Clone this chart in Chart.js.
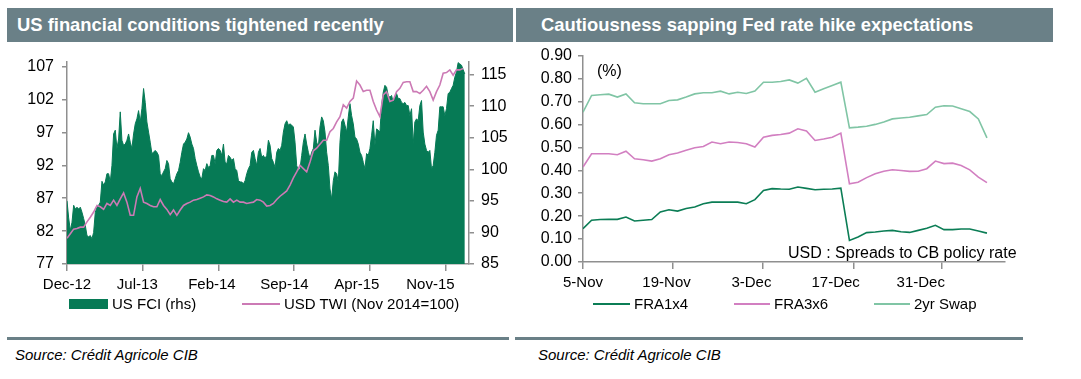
<!DOCTYPE html>
<html>
<head>
<meta charset="utf-8">
<script src="https://cdn.jsdelivr.net/npm/chart.js@4.4.1/dist/chart.umd.min.js"></script>
<style>
  html, body { margin: 0; padding: 0; background: #ffffff; }
  body { position: relative; width: 1081px; height: 379px; overflow: hidden;
         font-family: "Liberation Sans", Arial, sans-serif; color: #000; }
  .hdr { position: absolute; top: 8px; height: 34px; background: #6a8087; color: #fff;
         font-weight: bold; font-size: 18.4px; line-height: 34px; box-sizing: border-box; white-space: nowrap; }
  .txt { position: absolute; font-size: 15px; line-height: 18px; white-space: nowrap; }
  .sep { position: absolute; top: 337px; height: 3px; background: #6a8087; }
  .src { position: absolute; top: 346px; font-size: 15px; line-height: 18px; font-style: italic; white-space: nowrap; }
  .sw  { position: absolute; }
  canvas { position: absolute; }
</style>
</head>
<body>
<div class="hdr" style="left:7px;width:506px;padding-left:10px;">US financial conditions tightened recently</div>
<div class="hdr" style="left:516px;width:537px;padding-left:25px;">Cautiousness sapping Fed rate hike expectations</div>

<canvas id="c1" width="520" height="256" style="left:0px;top:40px;"></canvas>
<canvas id="c2" width="540" height="254" style="left:520px;top:40px;"></canvas>

<!-- left legend -->
<div class="sw" style="left:69px;top:299px;width:39px;height:10px;background:#067a55;"></div>
<div class="txt" style="left:112px;top:295px;">US FCI (rhs)</div>
<div class="sw" style="left:242px;top:303px;width:38px;height:2px;background:#cc7ab5;"></div>
<div class="txt" style="left:284px;top:295px;">USD TWI (Nov 2014=100)</div>

<!-- right legend -->
<div class="sw" style="left:593px;top:303px;width:37px;height:2px;background:#0b7d55;"></div>
<div class="txt" style="left:634px;top:295px;">FRA1x4</div>
<div class="sw" style="left:734px;top:303px;width:36px;height:2px;background:#d27fc1;"></div>
<div class="txt" style="left:774px;top:295px;">FRA3x6</div>
<div class="sw" style="left:874px;top:303px;width:36px;height:2px;background:#80c5a5;"></div>
<div class="txt" style="left:914px;top:295px;">2yr Swap</div>

<!-- in-chart notes -->
<div class="txt" style="left:597px;top:62px;font-size:16px;">(%)</div>
<div class="txt" style="left:788px;top:244px;font-size:16px;">USD : Spreads to CB policy rate</div>

<div class="sep" style="left:7px;width:502px;"></div>
<div class="sep" style="left:515px;width:508px;"></div>
<div class="src" style="left:15px;">Source: Crédit Agricole CIB</div>
<div class="src" style="left:538px;">Source: Crédit Agricole CIB</div>

<script>
// ---------------- LEFT CHART DATA ----------------
// months between consecutive US FCI observations (~4.7 days), series starts Dec-2012
const FCI_STEP = 0.1539;
// US FCI (right-hand scale)
const fciValues = [
  95.0, 92.3, 90.3, 91.6, 94.3, 93.7, 94.0, 93.7, 94.0, 93.2, 92.2, 91.1, 89.5, 89.3, 89.5, 89.0, 90.0, 93.2, 94.0, 94.3,
  94.8, 98.1, 97.5, 98.0, 99.3, 99.3, 98.0, 100.6, 105.6, 106.2, 103.3, 104.8, 109.1, 104.6, 103.8, 104.0, 104.6, 105.6, 104.3, 103.3,
  105.6, 107.2, 108.0, 109.3, 107.5, 109.6, 112.8, 110.6, 107.5, 105.9, 104.3, 102.5, 102.7, 103.0, 102.7, 102.2, 99.3,
  99.0, 99.6, 100.1, 101.4, 100.9, 98.5, 98.0, 97.7, 98.5, 99.3, 99.8, 101.1, 102.7, 104.0, 104.3, 104.8, 105.8, 105.1, 104.0, 103.3,
  101.7, 100.6, 99.6, 98.8, 98.5, 100.1, 99.8, 100.9, 100.3, 100.6, 102.2, 102.2, 100.9, 103.0, 103.3, 103.0, 102.2, 104.0, 101.1, 100.9,
  102.2, 101.9, 101.4, 101.7, 100.1, 99.8, 98.2, 98.0, 98.0, 97.7, 98.2, 99.3, 100.1, 100.6, 102.7, 103.0, 101.7, 100.6, 102.7, 103.3,
  101.9, 102.2, 101.7, 102.2, 104.6, 103.8, 101.7, 101.1, 100.3, 102.7, 103.3, 103.0, 103.8, 105.9, 107.2, 107.7, 107.0, 107.2, 107.0, 106.7,
  104.3, 100.6, 99.8, 100.1, 102.2, 104.3, 105.6, 104.0, 102.7, 101.7, 102.7, 103.3, 106.2, 104.3, 103.5, 106.7, 108.3, 107.7, 105.9, 102.7,
  100.6, 96.9, 95.3, 98.2, 99.6, 99.3, 98.0, 104.3, 107.5, 108.0, 107.0, 105.9, 108.3, 110.4, 108.5, 107.2, 105.1, 104.8, 104.0, 102.7,
  102.2, 101.1, 100.1, 102.5, 102.2, 103.3, 105.4, 107.7, 103.8, 106.4, 106.2, 105.9, 110.1, 112.2, 113.3, 113.0, 111.7, 111.4, 111.7, 110.6,
  111.4, 112.0, 111.2, 111.2, 110.6, 110.4, 110.6, 110.1, 110.1, 108.5, 109.6, 104.0, 107.5, 108.0, 107.7, 110.1, 110.9, 105.9, 104.0, 103.0,
  102.7, 103.0, 100.1, 100.6, 102.7, 105.4, 106.2, 109.9, 109.9, 109.9, 108.5, 109.6, 112.0, 112.2, 112.8, 113.3, 114.6, 115.4, 116.9, 116.7,
  116.5, 115.8, 115.1
];
// USD trade-weighted index (left scale), one observation every two FCI steps
const twiValues = [
  80.9, 81.6, 82.3, 82.4, 82.6, 82.6, 83.4, 84.1, 84.9, 85.9, 85.7, 85.3, 86.2, 85.9, 86.7, 85.9, 86.9, 87.8, 86.4, 84.4,
  84.4, 87.2, 88.5, 86.4, 86.2, 85.9, 85.7, 85.7, 86.8,
  85.9, 85.3, 84.5, 85.2, 84.4, 85.2, 85.9, 86.2, 86.4, 86.7, 86.8, 87.0, 87.2, 87.5, 87.4, 87.2, 86.9, 86.7, 86.5, 86.4,
  86.9, 86.4, 86.7, 86.4, 86.4, 86.2, 86.3, 86.4, 86.8, 86.7,
  86.4, 85.8, 85.9, 86.2, 86.8, 87.3, 87.7, 88.1, 89.0, 90.1, 91.0, 92.0, 91.5, 91.0, 92.5, 94.2, 94.6, 95.2, 95.8, 95.8,
  97.1, 97.6, 98.6, 99.4, 101.2, 100.7, 101.7, 102.2, 104.8, 104.2,
  103.2, 103.4, 103.4, 101.7, 100.4, 99.4, 102.7, 103.2, 101.7, 101.9, 103.2, 103.7, 104.6, 104.7, 104.7, 103.2, 103.2, 102.9, 103.4, 104.0,
  103.2, 101.9, 103.2, 104.2, 106.0, 106.1, 106.5, 105.7, 106.5, 106.5, 106.7
];
const leftLabels = ['Dec-12', 'Jul-13', 'Feb-14', 'Sep-14', 'Apr-15', 'Nov-15'];
const leftTickMonths = [0, 7, 14, 21, 28, 35];
const twiTicks = [77, 82, 87, 92, 97, 102, 107];
const fciTicks = [85, 90, 95, 100, 105, 110, 115];

// ---------------- RIGHT CHART DATA ----------------
const rateDays = ['5-Nov','6-Nov','9-Nov','10-Nov','11-Nov','12-Nov','13-Nov','16-Nov','17-Nov','18-Nov',
  '19-Nov','20-Nov','23-Nov','24-Nov','25-Nov','26-Nov','27-Nov','30-Nov','1-Dec','2-Dec',
  '3-Dec','4-Dec','7-Dec','8-Dec','9-Dec','10-Dec','11-Dec','14-Dec','15-Dec','16-Dec',
  '17-Dec','18-Dec','21-Dec','22-Dec','23-Dec','24-Dec','25-Dec','28-Dec','29-Dec','30-Dec',
  '31-Dec','1-Jan','4-Jan','5-Jan','6-Jan','7-Jan','8-Jan','11-Jan'];
const fra1x4 = [0.145, 0.182, 0.185, 0.186, 0.186, 0.196, 0.179, 0.182, 0.185, 0.218,
  0.228, 0.222, 0.233, 0.240, 0.254, 0.261, 0.261, 0.261, 0.261, 0.254,
  0.272, 0.312, 0.320, 0.318, 0.317, 0.327, 0.321, 0.315, 0.317, 0.318,
  0.322, 0.094, 0.109, 0.128, 0.131, 0.135, 0.138, 0.132, 0.129, 0.138,
  0.147, 0.160, 0.141, 0.141, 0.144, 0.144, 0.135, 0.126];
const fra3x6 = [0.414, 0.472, 0.472, 0.472, 0.468, 0.483, 0.450, 0.446, 0.440, 0.450,
  0.468, 0.475, 0.487, 0.498, 0.504, 0.523, 0.516, 0.523, 0.521, 0.516,
  0.501, 0.544, 0.552, 0.556, 0.562, 0.581, 0.571, 0.530, 0.536, 0.544,
  0.562, 0.341, 0.348, 0.368, 0.385, 0.396, 0.402, 0.399, 0.395, 0.396,
  0.407, 0.440, 0.429, 0.431, 0.421, 0.402, 0.370, 0.346];
const swap2y = [0.653, 0.726, 0.729, 0.732, 0.719, 0.733, 0.694, 0.690, 0.690, 0.690,
  0.704, 0.707, 0.719, 0.733, 0.738, 0.738, 0.745, 0.733, 0.740, 0.735,
  0.745, 0.784, 0.784, 0.787, 0.794, 0.780, 0.801, 0.740, 0.755, 0.770,
  0.784, 0.585, 0.588, 0.592, 0.600, 0.610, 0.624, 0.628, 0.631, 0.637,
  0.643, 0.675, 0.681, 0.680, 0.668, 0.656, 0.624, 0.541];
const rightLabels = ['5-Nov', '19-Nov', '3-Dec', '17-Dec', '31-Dec'];
const rateTicks = [0, 0.1, 0.2, 0.3, 0.4, 0.5, 0.6, 0.7, 0.8, 0.9];

// ---------------- STYLE / LAYOUT ----------------
const FONT = '"Liberation Sans", Arial, sans-serif';
const AXIS = '#8f8f8f';
const C_FCI = '#067a55', C_TWI = '#cc7ab5';
const C_F14 = '#0b7d55', C_F36 = '#d27fc1', C_SW = '#80c5a5';
// axis geometry (axis units)
const L_XMAX = 37.17;
const L_LABEL_AT = [0, 6.5, 13.4, 20.1, 26.8, 33.6];
const R_XMAX = 49.1;
const R_TICK_AT = [0, 10.49, 20.86, 31.47, 41.7];
const R_LABEL_AT = [0, 9.72, 19.6, 29.4, 39.3];

function fixedTicks(arr) { return s => { s.ticks = arr.map(v => ({ value: v })); }; }
function tickAxis(max, tickAt) {
  return { type: 'linear', position: 'bottom', weight: 0, min: 0, max: max,
    afterBuildTicks: fixedTicks(tickAt),
    ticks: { display: false },
    grid: { display: true, drawOnChartArea: false, drawTicks: true, tickLength: 7, color: AXIS, lineWidth: 1.5 },
    border: { display: true, color: AXIS, width: 1.5 },
    afterFit: s => { s.height = 7; } };
}
function labelAxis(max, labelAt, labels) {
  return { type: 'linear', position: 'bottom', weight: 1, min: 0, max: max,
    afterBuildTicks: fixedTicks(labelAt),
    ticks: { autoSkip: false, maxRotation: 0, minRotation: 0, padding: -3, color: '#000',
      font: { family: FONT, size: 15 }, callback: (v, i) => labels[i] },
    grid: { display: false }, border: { display: false },
    afterFit: s => { s.height = 25; } };
}
function yAxis(pos, min, max, ticks, width, pad, fmt) {
  return { type: 'linear', position: pos, min: min, max: max,
    afterBuildTicks: fixedTicks(ticks),
    ticks: { autoSkip: false, padding: pad, color: '#000', font: { family: FONT, size: 16 },
      callback: fmt },
    grid: { display: true, drawOnChartArea: false, drawTicks: true, tickLength: 5, color: AXIS, lineWidth: 1.5 },
    border: { display: true, color: AXIS, width: 1.5 },
    afterFit: s => { s.width = width; } };
}

Chart.defaults.font.family = FONT;

new Chart(document.getElementById('c1'), {
  type: 'line',
  data: {
    datasets: [
      { label: 'USD TWI (Nov 2014=100)', order: 0, xAxisID: 'x', yAxisID: 'y',
        data: twiValues.map((v, i) => ({ x: i * 2 * FCI_STEP, y: v })),
        borderColor: C_TWI, borderWidth: 1.6, pointRadius: 0, fill: false, tension: 0 },
      { label: 'US FCI (rhs)', order: 1, xAxisID: 'x', yAxisID: 'y1',
        data: fciValues.map((v, i) => ({ x: i * FCI_STEP, y: v })),
        borderColor: C_FCI, backgroundColor: C_FCI, borderWidth: 1, pointRadius: 0, fill: 'start', tension: 0 }
    ]
  },
  options: {
    responsive: false, animation: false, events: [],
    layout: { padding: { top: 22, left: 0, right: 0, bottom: 0 } },
    plugins: { legend: { display: false }, tooltip: { enabled: false } },
    scales: {
      x: tickAxis(L_XMAX, leftTickMonths),
      xl: labelAxis(L_XMAX, L_LABEL_AT, leftLabels),
      y: yAxis('left', 77, 107.7, twiTicks, 67, 8, v => String(v)),
      y1: yAxis('right', 85, 117, fciTicks, 51, 7, v => String(v))
    }
  }
});

new Chart(document.getElementById('c2'), {
  type: 'line',
  data: {
    datasets: [
      { label: 'FRA1x4', xAxisID: 'x', yAxisID: 'y',
        data: fra1x4.map((v, i) => ({ x: i, y: v })),
        borderColor: C_F14, borderWidth: 1.6, pointRadius: 0, fill: false, tension: 0 },
      { label: 'FRA3x6', xAxisID: 'x', yAxisID: 'y',
        data: fra3x6.map((v, i) => ({ x: i, y: v })),
        borderColor: C_F36, borderWidth: 1.6, pointRadius: 0, fill: false, tension: 0 },
      { label: '2yr Swap', xAxisID: 'x', yAxisID: 'y',
        data: swap2y.map((v, i) => ({ x: i, y: v })),
        borderColor: C_SW, borderWidth: 1.6, pointRadius: 0, fill: false, tension: 0 }
    ]
  },
  options: {
    responsive: false, animation: false, events: [],
    layout: { padding: { top: 15, left: 0, right: 55, bottom: 0 } },
    plugins: { legend: { display: false }, tooltip: { enabled: false } },
    scales: {
      x: tickAxis(R_XMAX, R_TICK_AT),
      xl: labelAxis(R_XMAX, R_LABEL_AT, rightLabels),
      y: yAxis('left', 0, 0.9, rateTicks, 63, 6, v => v.toFixed(2))
    }
  }
});
</script>
</body>
</html>
